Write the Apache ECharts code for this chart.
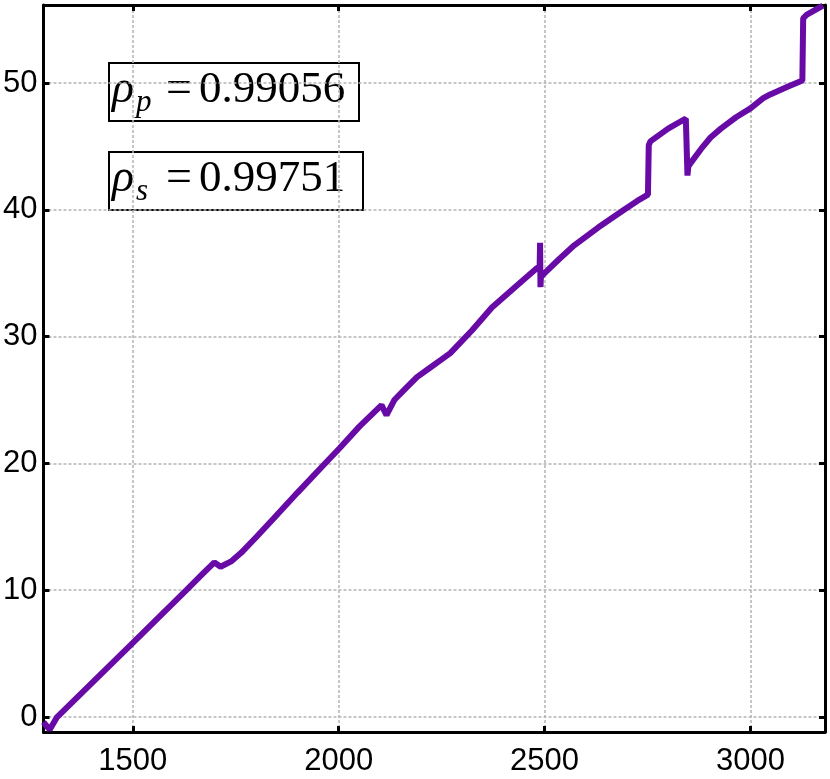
<!DOCTYPE html>
<html>
<head>
<meta charset="utf-8">
<script src="https://cdn.jsdelivr.net/npm/echarts@6/dist/echarts.min.js"></script>
<style>
  html, body { margin: 0; padding: 0; background: #fff; }
  #chart { width: 830px; height: 779px; }
</style>
</head>
<body>
<div id="chart"></div>
<script>
// curve
const xValues = [1283, 1298, 1316, 1500, 1630, 1670, 1698, 1713, 1740, 1763, 1800, 1843, 1900, 1961, 2002, 2050, 2104, 2116,
  2135, 2162, 2190, 2220, 2250, 2271, 2324, 2372, 2428, 2460, 2481, 2488, 2489, 2490, 2491, 2500, 2535, 2572, 2630, 2693,
  2725, 2751, 2753, 2757, 2800, 2843, 2847, 2849, 2855, 2880, 2903, 2928, 2965, 3000, 3031, 3048, 3090, 3126, 3128, 3137, 3176];
const yValues = [-0.4, -1.0, 0.0, 5.84, 10.0, 11.3, 12.2, 11.85, 12.3, 12.95, 14.2, 15.7, 17.7, 19.8, 21.2, 22.9, 24.6, 23.8,
  25.0, 25.9, 26.8, 27.5, 28.2, 28.7, 30.5, 32.3, 33.9, 34.8, 35.4, 35.5, 37.4, 33.9, 34.7, 35.0, 36.1, 37.2, 38.6, 40.0,
  40.7, 41.2, 45.1, 45.4, 46.4, 47.2, 42.7, 43.4, 43.7, 44.8, 45.7, 46.4, 47.3, 48.0, 48.8, 49.1, 49.7, 50.2, 55.1, 55.4, 56.1];

const xTicks = [1500, 2000, 2500, 3000];
const yTicks = [0, 10, 20, 30, 40, 50];
const xRange = [1283, 3181];
const yRange = [-1.18, 56.15];

const stats = [
  { sub: 'p', value: '0.99056' },
  { sub: 's', value: '0.99751' }
];

const points = xValues.map((x, i) => [x, yValues[i]]);

const gridDash = { color: '#b4b4b4', width: 1.5, type: [3, 2] };
const frameLine = { show: true, onZero: false, lineStyle: { color: '#000', width: 3 } };
const tickStyle = { lineStyle: { color: '#000', width: 3 } };
const labelFont = { fontSize: 31, color: '#000', fontFamily: 'Liberation Sans', formatter: (v) => String(v) };

// text boxes
const boxes = stats.map((s, i) => {
  const top = 63 + i * 89;
  const w = i === 0 ? 250 : 254;
  return {
    type: 'group',
    children: [
      { type: 'rect', shape: { x: 109, y: top, width: w, height: 58 },
        style: { fill: '#fff', stroke: '#000', lineWidth: 2 } },
      { type: 'text', x: 112, y: top + 27,
        style: { text: 'ρ', font: 'italic 46px "Liberation Serif"', fill: '#000', verticalAlign: 'middle' } },
      { type: 'text', x: 136, y: top + 40,
        style: { text: s.sub, font: 'italic 31px "Liberation Serif"', fill: '#000', verticalAlign: 'middle' } },
      { type: 'text', x: 166, y: top + 27,
        style: { text: '=', font: '46px "Liberation Serif"', fill: '#000', verticalAlign: 'middle' } },
      { type: 'text', x: 199, y: top + 27,
        style: { text: s.value, font: '45px "Liberation Serif"', fill: '#000', verticalAlign: 'middle' } }
    ]
  };
});

const chart = echarts.init(document.getElementById('chart'));
chart.setOption({
  animation: false,
  backgroundColor: '#fff',
  grid: { left: 39, top: 5, width: 786, height: 727, containLabel: false },
  xAxis: [
    {
      type: 'value', min: xRange[0], max: xRange[1], position: 'bottom',
      axisLine: frameLine,
      axisTick: { show: true, inside: true, length: 6, customValues: xTicks, ...tickStyle },
      axisLabel: { customValues: xTicks, margin: 14, ...labelFont },
      splitLine: { show: true, lineStyle: gridDash }
    },
    {
      type: 'value', min: xRange[0], max: xRange[1], position: 'top',
      axisLine: frameLine,
      axisTick: { show: true, inside: true, length: 6, customValues: xTicks, ...tickStyle },
      axisLabel: { show: false },
      splitLine: { show: false }
    }
  ],
  yAxis: [
    {
      type: 'value', min: yRange[0], max: yRange[1], position: 'left',
      axisLine: frameLine,
      axisTick: { show: true, inside: true, length: 6, customValues: yTicks, ...tickStyle },
      axisLabel: { customValues: yTicks, margin: 6, ...labelFont },
      splitLine: { show: true, lineStyle: gridDash }
    },
    {
      type: 'value', min: yRange[0], max: yRange[1], position: 'right',
      axisLine: frameLine,
      axisTick: { show: true, inside: true, length: 6, customValues: yTicks, ...tickStyle },
      axisLabel: { show: false },
      splitLine: { show: false }
    }
  ],
  series: [
    {
      type: 'line',
      data: points,
      xAxisIndex: 0,
      yAxisIndex: 0,
      showSymbol: false,
      lineStyle: { color: '#680aa6', width: 6 },
      z: 3
    }
  ],
  graphic: boxes
});
</script>
</body>
</html>
